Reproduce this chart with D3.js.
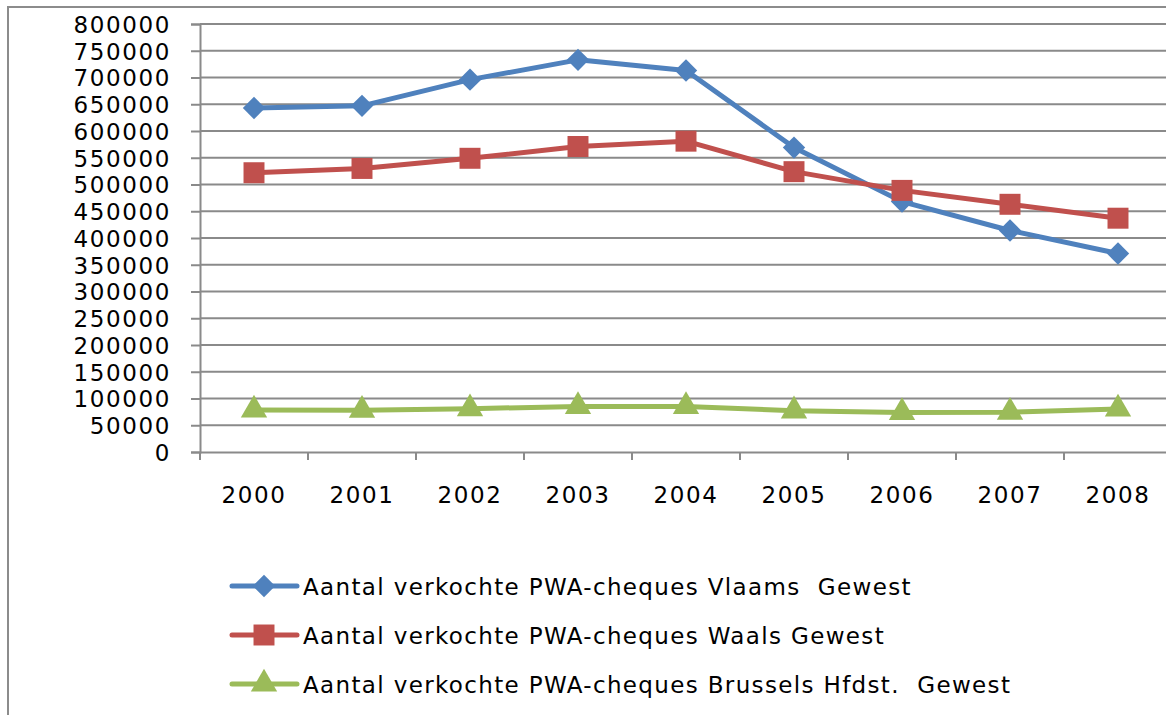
<!DOCTYPE html>
<html>
<head>
<meta charset="utf-8">
<script src="https://cdn.jsdelivr.net/npm/d3@7"></script>
<style>
  body { margin: 0; background: #fff; }
  text { font-family: "DejaVu Sans", sans-serif; fill: #000; }
</style>
</head>
<body>
<div id="chart"></div>
<script>
// data
var years = ["2000", "2001", "2002", "2003", "2004", "2005", "2006", "2007", "2008"];
var vlaams = [643000, 647000, 696000, 733000, 713000, 569000, 468000, 414000, 371000];
var waals = [522000, 530000, 549000, 571000, 581000, 524000, 489000, 463000, 437000];
var brussel = [78500, 78000, 81000, 85000, 85000, 77000, 74000, 74500, 80500];
var yTicks = d3.range(0, 800001, 50000);
var seriesNames = [
  "Aantal verkochte PWA-cheques Vlaams  Gewest",
  "Aantal verkochte PWA-cheques Waals Gewest",
  "Aantal verkochte PWA-cheques Brussels Hfdst.  Gewest"
];

var width = 1166, height = 715;
var plot = {left: 200, right: 1172, top: 24, bottom: 452};

var svg = d3.select("#chart").append("svg")
    .attr("width", width)
    .attr("height", height);

// outer chart frame
svg.append("rect")
    .attr("x", 8).attr("y", 7)
    .attr("width", 1200).attr("height", 800)
    .attr("fill", "none")
    .attr("stroke", "#8c8c8c")
    .attr("stroke-width", 2);

var x = d3.scaleBand()
    .domain(years)
    .range([plot.left, plot.right]);

var y = d3.scaleLinear()
    .domain([0, 800000])
    .range([plot.bottom, plot.top]);

// gridlines
svg.append("g")
    .selectAll("line")
    .data(yTicks.slice(1))
    .join("line")
    .attr("x1", plot.left).attr("x2", plot.right)
    .attr("y1", d => y(d)).attr("y2", d => y(d))
    .attr("stroke", "#8a8a8a")
    .attr("stroke-width", 2);

// y axis
var yAxis = svg.append("g")
    .attr("transform", "translate(" + plot.left + ",0)")
    .call(d3.axisLeft(y).tickValues(yTicks).tickSize(9).tickPadding(20).tickFormat(d3.format("d")));

// x axis
var xAxis = svg.append("g")
    .attr("transform", "translate(0," + plot.bottom + ")")
    .call(d3.axisBottom(x).tickSize(0).tickPadding(35));

xAxis.selectAll(".tick")
    .append("line")
    .attr("x1", -x.bandwidth() / 2).attr("x2", -x.bandwidth() / 2)
    .attr("y1", 0).attr("y2", 8)
    .attr("stroke", "#8a8a8a")
    .attr("stroke-width", 2);

[yAxis, xAxis].forEach(function(a){
  a.select(".domain").attr("stroke", "#8a8a8a").attr("stroke-width", 2);
  a.selectAll(".tick line").attr("stroke", "#8a8a8a").attr("stroke-width", 2);
  a.selectAll("text")
      .attr("font-family", "DejaVu Sans")
      .attr("font-size", 23)
      .attr("letter-spacing", 1.6)
      .attr("fill", "#000");
});
yAxis.selectAll("text").attr("dy", "0.36em");
xAxis.selectAll("text").attr("dy", "0.71em");

var series = [
  {name: seriesNames[0], values: vlaams, color: "#4F81BD", symbol: d3.symbolSquare, size: 250, rotate: 45},
  {name: seriesNames[1], values: waals, color: "#C0504D", symbol: d3.symbolSquare, size: 440, rotate: 0},
  {name: seriesNames[2], values: brussel, color: "#9BBB59", symbol: d3.symbolTriangle, size: 300, rotate: 0}
];

var line = d3.line()
    .x((d, i) => x(years[i]) + x.bandwidth() / 2)
    .y(d => y(d));

series.forEach(function(s){
  svg.append("path")
      .datum(s.values)
      .attr("d", line)
      .attr("fill", "none")
      .attr("stroke", s.color)
      .attr("stroke-width", 5)
      .attr("stroke-linejoin", "round");

  svg.append("g")
      .selectAll("path")
      .data(s.values)
      .join("path")
      .attr("transform", (d, i) => "translate(" + (x(years[i]) + x.bandwidth() / 2) + "," + y(d) + ") rotate(" + s.rotate + ")")
      .attr("d", d3.symbol().type(s.symbol).size(s.size))
      .attr("fill", s.color);
});

// legend
var legend = svg.append("g")
    .selectAll("g")
    .data(series)
    .join("g")
    .attr("transform", (d, i) => "translate(0," + (586 + i * 49) + ")");

legend.append("line")
    .attr("x1", 232).attr("x2", 297)
    .attr("stroke", d => d.color)
    .attr("stroke-width", 5)
    .attr("stroke-linecap", "round");

legend.append("path")
    .attr("transform", d => "translate(264,0) rotate(" + d.rotate + ")")
    .attr("d", d => d3.symbol().type(d.symbol).size(d.size)())
    .attr("fill", d => d.color);

legend.append("text")
    .attr("x", 303)
    .attr("y", 9)
    .attr("font-size", 23)
    .attr("letter-spacing", 1.35)
    .style("white-space", "pre")
    .text(d => d.name);
</script>
</body>
</html>
